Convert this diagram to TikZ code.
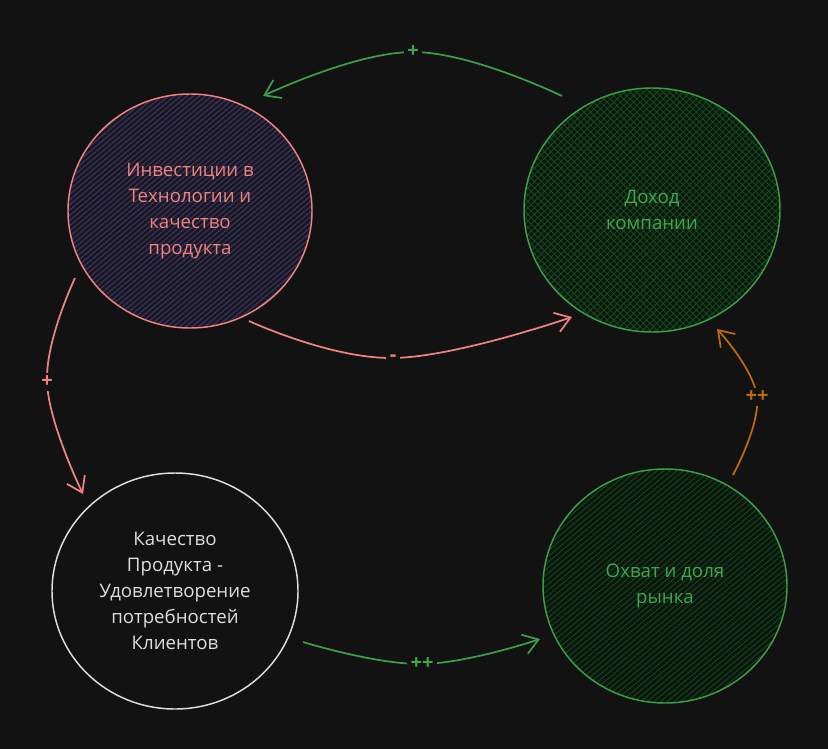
\documentclass[tikz,border=0pt]{standalone}
\usepackage{fontspec}
\setmainfont{Open Sans}
\usetikzlibrary{shapes.geometric,arrows.meta,patterns.meta}
\definecolor{bg}{HTML}{121212}
\definecolor{redc}{HTML}{F08282}
\definecolor{greenc}{HTML}{3B9E4A}
\definecolor{greent}{HTML}{41A652}
\definecolor{whitec}{HTML}{DEDEDE}
\definecolor{orangec}{HTML}{C06A0C}
\definecolor{purpbase}{HTML}{19181F}
\definecolor{purpline}{HTML}{3A3262}
\definecolor{grbase}{HTML}{0B170D}
\definecolor{grline}{HTML}{174C1F}
\tikzset{
  circ/.style={ellipse, inner sep=0pt, outer sep=0pt, line width=1.1pt, align=center,
    font=\fontsize{14}{19.5}\selectfont},
  conn/.style={line width=1.3pt, -{Straight Barb[length=11pt,width=15pt,line width=1.3pt]}},
  lbl/.style={fill=bg, inner sep=2.5pt, font=\bfseries\fontsize{15}{15}\selectfont},
}
\begin{document}
\begin{tikzpicture}[x=0.75pt,y=-0.75pt]
\fill[bg] (0,0) rectangle (828,749);
\useasboundingbox (0,0) rectangle (828,749);

% circles
\node[circ, draw=redc, text=redc, minimum width=183pt, minimum height=175.5pt,
  preaction={fill=purpbase}, pattern={Lines[angle=40,distance=3pt,line width=0.9pt]}, pattern color=purpline]
  (inv) at (190,211) {Инвестиции в\\Технологии и\\качество\\продукта};
\node[circ, draw=greenc, text=greent, minimum width=192pt, minimum height=183pt,
  preaction={fill=grbase}, pattern={Hatch[angle=45,distance=3.5pt,line width=0.6pt]}, pattern color=grline]
  (inc) at (652,210) {Доход\\компании};
\node[circ, draw=whitec, text=whitec, minimum width=184.5pt, minimum height=177pt]
  (qual) at (175,591) {Качество\\Продукта -\\Удовлетворение\\потребностей\\Клиентов};
\node[circ, draw=greenc, text=greent, minimum width=183pt, minimum height=175.5pt,
  preaction={fill=grbase}, pattern={Lines[angle=40,distance=3.2pt,line width=0.6pt]}, pattern color=grline]
  (mkt) at (665,586) {Охват и доля\\рынка};

% connector end points
\coordinate (a1s) at (562,96);  \coordinate (a1m) at (413,52);  \coordinate (a1e) at (263,96);
\coordinate (a2s) at (249,321); \coordinate (a2m) at (393,358); \coordinate (a2e) at (572,317);
\coordinate (a3s) at (75,278);  \coordinate (a3m) at (47,382);  \coordinate (a3e) at (83,494);
\coordinate (a4s) at (303,642); \coordinate (a4m) at (422,664); \coordinate (a4e) at (540,639);
\coordinate (a5s) at (733,475); \coordinate (a5m) at (757,397); \coordinate (a5e) at (717,329);

% connectors
\draw[conn, greenc] plot[smooth, tension=0.7] coordinates {(a1s) (a1m) (a1e)};
\node[lbl, text=greent] at (a1m) {+};

\draw[conn, redc] plot[smooth, tension=0.7] coordinates {(a2s) (a2m) (a2e)};
\node[lbl, text=redc] at (a2m) {-};

\draw[conn, redc] plot[smooth, tension=0.7] coordinates {(a3s) (a3m) (a3e)};
\node[lbl, text=redc] at (a3m) {+};

\draw[conn, greenc] plot[smooth, tension=0.7] coordinates {(a4s) (a4m) (a4e)};
\node[lbl, text=greent] at (a4m) {++};

\draw[conn, orangec] plot[smooth, tension=0.7] coordinates {(a5s) (a5m) (a5e)};
\node[lbl, text=orangec] at (a5m) {++};
\end{tikzpicture}
\end{document}
